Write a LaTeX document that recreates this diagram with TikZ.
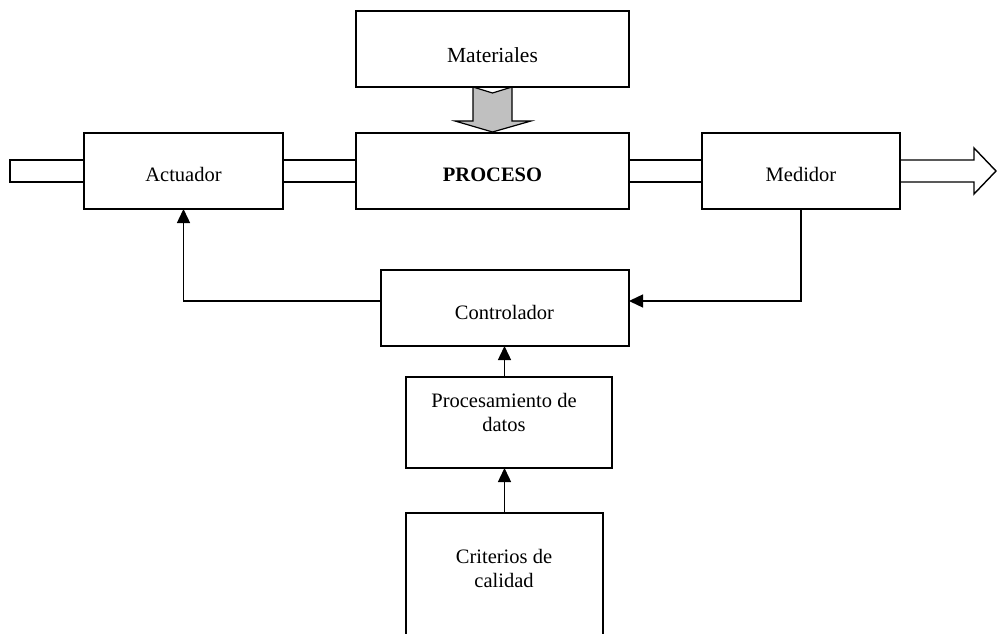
\documentclass[tikz,border=0pt]{standalone}
\usepackage{fontspec}
\setmainfont{Liberation Serif}
\usetikzlibrary{arrows.meta,calc}
\tikzset{
  box/.style={draw, line width=1.4pt, rectangle, inner sep=0pt, outer sep=0pt, fill=white},
  lbl/.style={anchor=base, inner sep=0pt, font=\fontsize{20.5}{24}\selectfont, align=center},
  wire/.style={line width=1.4pt},
  feed/.style={line width=1.4pt, -{Triangle[length=14pt,width=13pt]}},
  flow/.style={line width=1.4pt, line join=miter},
  matflow/.style={draw, line width=1.2pt, fill={rgb,255:red,192;green,192;blue,192}, line join=miter}
}
\begin{document}
\begin{tikzpicture}[x=1pt, y=-1pt]
\useasboundingbox[fill=white] (0,0) rectangle (997,634);
\clip (0,0) rectangle (997,634);

% material supply arrow (drawn first, the box covers its tail)
\coordinate (mtail) at (492.5,87);
\draw[matflow] ($(mtail)+(-19.5,0)$) -- ($(mtail)+(0,6)$) -- ($(mtail)+(19.5,0)$)
  -- ($(mtail)+(19.5,34)$) -- ($(mtail)+(38.5,34)$) -- ($(mtail)+(0,45)$)
  -- ($(mtail)+(-37.5,34)$) -- ($(mtail)+(-19.5,34)$) -- cycle;

% blocks
\node[box, minimum width=273pt, minimum height=76pt] (mat)  at (492.5,49)  {};
\node[box, minimum width=199pt, minimum height=76pt] (act)  at (183.5,171) {};
\node[box, minimum width=273pt, minimum height=76pt] (proc) at (492.5,171) {};
\node[box, minimum width=198pt, minimum height=76pt] (med)  at (801,171)   {};
\node[box, minimum width=248pt, minimum height=76pt] (ctrl) at (505,308)   {};
\node[box, minimum width=206pt, minimum height=91pt] (pdat) at (509,422.5) {};
\node[box, minimum width=197pt, minimum height=147pt] (crit) at (504.5,586.5) {};

% texts (base anchor = baseline of the last line)
\node[lbl] (tmat)  at (492.5,63) {\fontsize{21.5}{24}\selectfont Materiales};
\node[lbl] (tact)  at (183.5,181) {Actuador};
\node[lbl] (tproc) at (492.5,181) {\textbf{PROCESO}};
\node[lbl] (tmed)  at (801,181) {Medidor};
\node[lbl] (tctrl) at (504.5,319) {Controlador};
\node[lbl] (tpdat) at (504,431) {Procesamiento de\\datos};
\node[lbl] (tcrit) at (504,587) {Criterios de\\calidad};

% main flow: input stub, links between blocks, output arrow
\coordinate (inl) at (10,171);
\draw[flow] ([yshift=11pt]act.west) -- ([yshift=11pt]act.west -| inl)
  -- ([yshift=-11pt]act.west -| inl) -- ([yshift=-11pt]act.west);
\draw[flow] ([yshift=11pt]act.east) -- ([yshift=11pt]proc.west);
\draw[flow] ([yshift=-11pt]act.east) -- ([yshift=-11pt]proc.west);
\draw[flow] ([yshift=11pt]proc.east) -- ([yshift=11pt]med.west);
\draw[flow] ([yshift=-11pt]proc.east) -- ([yshift=-11pt]med.west);
\coordinate (outtip) at (996,171);
\draw[flow] ([yshift=11pt]med.east) -- ++(74,0) -- ++(0,-12) -- (outtip)
  -- ++(-22,23) -- ++(0,-12) -- ([yshift=-11pt]med.east);

% feedback loop
\draw[feed] (med.south) |- ([yshift=7pt]ctrl.east);
\draw[feed] ([yshift=7pt]ctrl.west) -| (act.south);
\draw[feed] (crit.north) -- (crit.north |- pdat.south);
\draw[feed] (crit.north |- pdat.north) -- (crit.north |- ctrl.south);
\end{tikzpicture}
\end{document}
